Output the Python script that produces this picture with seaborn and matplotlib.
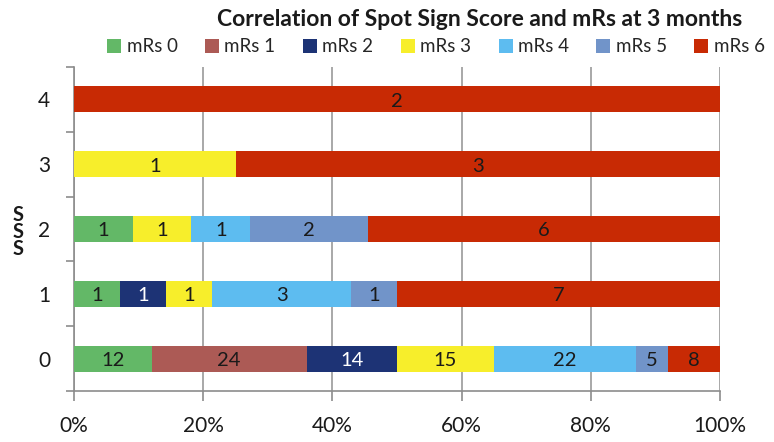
import numpy as np
import pandas as pd
import matplotlib
matplotlib.use("Agg")
import matplotlib.pyplot as plt
from matplotlib.patches import Patch
from matplotlib.ticker import FixedLocator
import seaborn as sns

# Spot Sign Score groups and patient counts per mRs outcome at 3 months
sss_levels = ["4", "3", "2", "1", "0"]
mrs_labels = ["mRs 0", "mRs 1", "mRs 2", "mRs 3", "mRs 4", "mRs 5", "mRs 6"]
counts = {
    "0": [12, 24, 14, 15, 22, 5, 8],
    "1": [1, 0, 1, 1, 3, 1, 7],
    "2": [1, 0, 0, 1, 1, 2, 6],
    "3": [0, 0, 0, 1, 0, 0, 3],
    "4": [0, 0, 0, 0, 0, 0, 2],
}
colors = ["#63b867", "#ac5a55", "#1d3375", "#f7ee2b", "#5dbcf0", "#7194c9", "#c82a04"]
x_ticks = [0, 20, 40, 60, 80, 100]
x_tick_labels = ["0%", "20%", "40%", "60%", "80%", "100%"]

sns.set_theme(style="white")
plt.rcParams["font.family"] = ["Lato", "DejaVu Sans"]
txt = "#1a1a1a"

# long-form table with share and running left edge for each segment
rows = []
for sss in sss_levels:
    c = np.array(counts[sss], dtype=float)
    share = c / c.sum() * 100
    left = np.concatenate([[0], np.cumsum(share)[:-1]])
    for i, lab in enumerate(mrs_labels):
        rows.append(dict(SSS=sss, mRs=lab, n=int(c[i]), share=share[i],
                         left=left[i], right=left[i] + share[i]))
df = pd.DataFrame(rows)

fig = plt.figure(figsize=(7.74, 4.42), dpi=100)
ax = fig.add_axes([74 / 774, 1 - 391 / 442, (720 - 74) / 774, (391 - 67) / 442])

# stacked bars: draw cumulative right edges from the last outcome back to the first
for lab, col in reversed(list(zip(mrs_labels, colors))):
    sub = df[df["mRs"] == lab]
    sns.barplot(data=sub, x="right", y="SSS", order=sss_levels, orient="h",
                color=col, saturation=1, width=0.4, ax=ax, zorder=3, linewidth=0)

# segment value labels
for _, r in df.iterrows():
    if r["n"] > 0:
        ypos = sss_levels.index(r["SSS"])
        tc = "white" if r["mRs"] == "mRs 2" else txt
        ax.text(r["left"] + r["share"] / 2, ypos + 0.03, str(r["n"]), ha="center",
                va="center", fontsize=14.5, color=tc, zorder=4)

ax.set_xlim(0, 100)
ax.set_ylim(4.5, -0.5)
ax.set_xticks(x_ticks)
ax.set_xticklabels(x_tick_labels, fontsize=15, color=txt)
ax.set_yticks(range(len(sss_levels)))
ax.set_yticklabels(sss_levels, fontsize=15, color=txt)
ax.yaxis.set_minor_locator(FixedLocator(np.arange(-0.5, 5, 1)))
ax.tick_params(axis="y", which="major", length=0, pad=17)
ax.tick_params(axis="y", which="minor", left=True, length=6, width=1.2, color="#8c8c8c")
ax.tick_params(axis="x", which="major", bottom=True, length=7, width=1.2,
               color="#8c8c8c", pad=11)
ax.xaxis.grid(True, color="#9a9a9a", linewidth=1.2, zorder=0)
ax.set_axisbelow(True)
for s in ["top", "right"]:
    ax.spines[s].set_visible(False)
for s in ["left", "bottom"]:
    ax.spines[s].set_color("#8c8c8c")
    ax.spines[s].set_linewidth(1.2)
ax.set_xlabel("")
ax.set_ylabel("")

fig.text(18 / 774, 1 - 232 / 442, "S\nS\nS", ha="center", va="center",
         fontsize=14.5, fontweight="bold", linespacing=0.8, color=txt)

fig.text(480 / 774, 1 - 20 / 442, "Correlation of Spot Sign Score and mRs at 3 months",
         ha="center", va="center", fontsize=16.5, fontweight="bold", color=txt)

handles = [Patch(facecolor=c, edgecolor="none") for c in colors]
fig.legend(handles, mrs_labels, loc="center", bbox_to_anchor=(436 / 774, 1 - 47 / 442),
           ncol=7, frameon=False, fontsize=13.5, handlelength=0.75, handleheight=0.75,
           handletextpad=0.3, columnspacing=1.45, borderpad=0)

fig.savefig("out.png", dpi=100)
